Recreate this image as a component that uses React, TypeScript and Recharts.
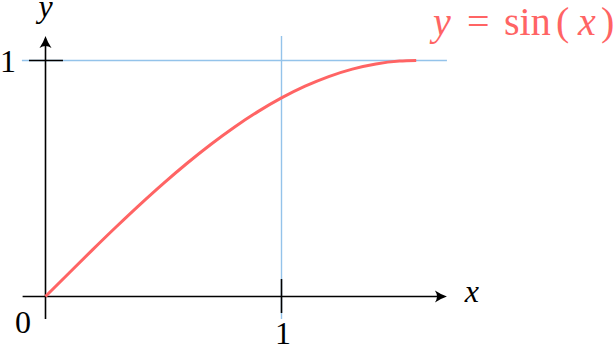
import { LineChart, Line, XAxis, YAxis, ReferenceLine, ReferenceDot } from 'recharts'

// points (x, y)
const xs = [0, 0.1, 0.2, 0.3, 0.4, 0.5, 0.6, 0.7, 0.8, 0.9, 1.0, 1.1, 1.2, 1.3, 1.4, 1.5, 1.5708]
const ys = [0, 0.0998, 0.1987, 0.2955, 0.3894, 0.4794, 0.5646, 0.6442, 0.7174, 0.7833, 0.8415, 0.8912, 0.932, 0.9636, 0.9854, 0.9975, 1.0]
const xTicks = [1]
const yTicks = [1]
// title pieces: [text, italic, offset from start]
const titleParts: [string, boolean, number][] = [
  ['y', true, 0],
  ['=', false, 34],
  ['sin', false, 71],
  ['(', false, 123],
  ['x', true, 145],
  [')', false, 168],
]

const data = xs.map((x, i) => ({ x, y: ys[i] }))

const RED = '#ff6464'
const BLUE = '#94c3ea'
const FONT = '"Liberation Serif", "DejaVu Serif", serif'

const arrowRight = (props: any) => {
  const { cx, cy } = props
  return (
    <path
      d={`M${cx},${cy} Q${cx - 6},${cy - 2} ${cx - 12},${cy - 6} Q${cx - 8},${cy} ${cx - 12},${cy + 6} Q${cx - 6},${cy + 2} ${cx},${cy} Z`}
      fill="#000"
    />
  )
}

const arrowUp = (props: any) => {
  const { cx, cy } = props
  return (
    <path
      d={`M${cx},${cy} Q${cx - 2},${cy + 6} ${cx - 6},${cy + 12} Q${cx},${cy + 8} ${cx + 6},${cy + 12} Q${cx + 2},${cy + 6} ${cx},${cy} Z`}
      fill="#000"
    />
  )
}

const textAt = (content: string, dx: number, dy: number, italic = false, size = 32) => (props: any) => (
  <text
    x={props.cx + dx}
    y={props.cy + dy}
    textAnchor="middle"
    fontFamily={FONT}
    fontSize={size}
    fontStyle={italic ? 'italic' : 'normal'}
    fill="#000"
  >
    {content}
  </text>
)

const curveTitle = (props: any) => (
  <g>
    {titleParts.map(([t, it, off]) => (
      <text
        key={t}
        x={props.cx + off}
        y={props.cy}
        fontFamily={FONT}
        fontSize={40}
        fontStyle={it ? 'italic' : 'normal'}
        fill={RED}
      >
        {t}
      </text>
    ))}
  </g>
)

export default function App() {
  return (
    <div style={{ position: 'absolute', left: 0, top: 0 }}>
      <LineChart width={613} height={349} data={data} margin={{ top: 0, right: 0, bottom: 0, left: 0 }}>
        <XAxis dataKey="x" type="number" domain={[-0.1928, 2.40466]} allowDataOverflow hide />
        <YAxis type="number" domain={[-0.22246, 1.25636]} allowDataOverflow hide />

        <ReferenceLine segment={[{ x: -0.1, y: 1 }, { x: 1.701, y: 1 }]} stroke={BLUE} strokeWidth={1.4} />
        <ReferenceLine segment={[{ x: 1, y: -0.095 }, { x: 1, y: 1.104 }]} stroke={BLUE} strokeWidth={1.4} />

        <ReferenceLine segment={[{ x: -0.097, y: 0 }, { x: 1.68, y: 0 }]} stroke="#000" strokeWidth={1.6} />
        <ReferenceLine segment={[{ x: 0, y: -0.095 }, { x: 0, y: 1.085 }]} stroke="#000" strokeWidth={1.6} />
        {yTicks.map((t) => (
          <ReferenceLine key={'yt' + t} segment={[{ x: -0.07, y: t }, { x: 0.074, y: t }]} stroke="#000" strokeWidth={1.6} />
        ))}
        {xTicks.map((t) => (
          <ReferenceLine key={'xt' + t} segment={[{ x: t, y: 0.074 }, { x: t, y: -0.07 }]} stroke="#000" strokeWidth={1.6} />
        ))}

        <ReferenceDot x={1.701} y={0} r={0} shape={arrowRight} />
        <ReferenceDot x={0} y={1.104} r={0} shape={arrowUp} />

        {yTicks.map((t) => (
          <ReferenceDot key={'yl' + t} x={0} y={t} r={0} shape={textAt(String(t), -37.5, 11.5)} />
        ))}
        {xTicks.map((t) => (
          <ReferenceDot key={'xl' + t} x={t} y={0} r={0} shape={textAt(String(t), 1.5, 48)} />
        ))}
        <ReferenceDot x={0} y={0} r={0} shape={textAt('0', -22.5, 36.5)} />
        <ReferenceDot x={1.701} y={0} r={0} shape={textAt('x', 25, 5.5, true)} />
        <ReferenceDot x={0} y={1.104} r={0} shape={textAt('y', 0, -19, true)} />
        <ReferenceDot x={1.642} y={1.108} r={0} shape={curveTitle} />

        <Line
          dataKey="y"
          type="monotone"
          stroke={RED}
          strokeWidth={3}
          strokeLinecap="butt"
          dot={false}
          activeDot={false}
          isAnimationActive={false}
        />
      </LineChart>
    </div>
  )
}
